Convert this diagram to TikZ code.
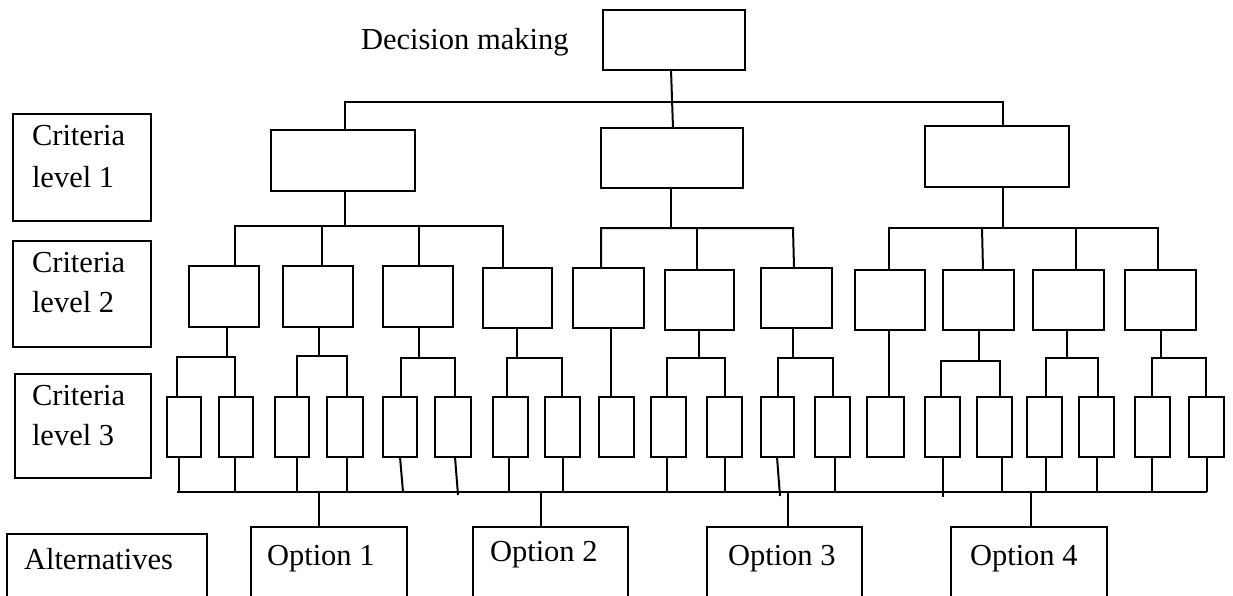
\documentclass[tikz,border=0pt]{standalone}
\usepackage{fontspec}
\setmainfont{Liberation Serif}

% box from its corners (x1,y1)-(x2,y2), y measured downwards
\newcommand\mkbox[5]{%
  \node[bx, minimum width={#4-#2}, minimum height={#5-#3}] (#1) at ({(#2+#4)/2},{(#3+#5)/2}) {};}
% parent -> bus -> two children
\newcommand\pairlink[7]{%
  \draw[ln] (#1.south -| #2,0) -- (#2,#3);
  \draw[ln] (#4.north -| #5,0) -- (#5,#3) -- (#7,#3) -- (#6.north -| #7,0);}
% level-3 criterion down to the alternatives bus
\newcommand\downlink[4]{%
  \draw[ln] (#1.south -| #2,0) -- (#3,#4);}

\begin{document}
\begin{tikzpicture}[x=1pt,y=-1pt,
  bx/.style={draw, line width=2pt, rectangle, inner sep=0pt, outer sep=0pt},
  ln/.style={line width=2pt},
  txt/.style={inner sep=0pt, outer sep=0pt, anchor=base west,
              font=\fontsize{30.5}{36}\selectfont}]
\useasboundingbox (0,0) rectangle (1233,596);
\clip (0,0) rectangle (1233,596);
\fill[white] (0,0) rectangle (1233,596);

% ---- level labels on the left
\mkbox{crA}{13}{114}{151}{221}
\node[txt] (crAa) at (32,146) {Criteria};
\node[txt] (crAb) at (32,187) {level 1};
\mkbox{crB}{13}{241}{151}{347}
\node[txt] (crBa) at (32,272) {Criteria};
\node[txt] (crBb) at (32,312) {level 2};
\mkbox{crC}{15}{374}{151}{478}
\node[txt] (crCa) at (32,405) {Criteria};
\node[txt] (crCb) at (32,445) {level 3};
\mkbox{alt}{7}{534}{207}{620}
\node[txt] (altt) at (24,569) {Alternatives};

% ---- goal
\node[txt] (dm) at (361,50) {Decision making};
\mkbox{top}{603}{10}{745}{70}

% ---- criteria level 1
\mkbox{l1a}{271}{130}{415}{191}
\mkbox{l1b}{601}{128}{743}{188}
\mkbox{l1c}{925}{126}{1069}{187}

\draw[ln] (l1a.north -| 345,0) -- (345,102) -- (1003,102) -- (l1c.north -| 1003,0);
\draw[ln] (top.south -| 671,0) -- (l1b.north -| 673,0);

% ---- criteria level 2
\mkbox{l2a}{189}{266}{259}{327}
\mkbox{l2b}{283}{266}{353}{327}
\mkbox{l2c}{383}{266}{453}{327}
\mkbox{l2d}{483}{268}{552}{328}
\mkbox{l2e}{573}{268}{644}{328}
\mkbox{l2f}{665}{270}{734}{330}
\mkbox{l2g}{761}{268}{832}{328}
\mkbox{l2h}{855}{270}{925}{330}
\mkbox{l2i}{943}{270}{1014}{330}
\mkbox{l2j}{1033}{270}{1104}{330}
\mkbox{l2k}{1125}{270}{1196}{330}

\draw[ln] (l1a.south -| 345,0) -- (345,226);
\draw[ln] (l2a.north -| 235,0) -- (235,226) -- (503,226) -- (l2d.north -| 503,0);
\draw[ln] (l2b.north -| 322,0) -- (322,226);
\draw[ln] (l2c.north -| 419,0) -- (419,226);

\draw[ln] (l1b.south -| 671,0) -- (671,228);
\draw[ln] (l2e.north -| 601,0) -- (601,228) -- (793,228) -- (l2g.north -| 794,0);
\draw[ln] (l2f.north -| 697,0) -- (697,228);

\draw[ln] (l1c.south -| 1003,0) -- (1003,228);
\draw[ln] (l2h.north -| 889,0) -- (889,228) -- (1158,228) -- (l2k.north -| 1158,0);
\draw[ln] (982,228) -- (l2i.north -| 983,0);
\draw[ln] (l2j.north -| 1076,0) -- (1076,228);

% ---- criteria level 3
\foreach \n/\a/\b in {l3a/167/201, l3b/219/253, l3c/275/309, l3d/327/363,
    l3e/383/417, l3f/435/471, l3g/493/528, l3h/545/580, l3i/599/634,
    l3j/651/686, l3k/707/742, l3l/761/794, l3m/815/850, l3n/867/904,
    l3o/925/960, l3p/977/1012, l3q/1027/1062, l3r/1079/1114,
    l3s/1135/1170, l3t/1189/1224}
  {\mkbox{\n}{\a}{397}{\b}{457}}

\pairlink{l2a}{227}{357}{l3a}{177}{l3b}{235}
\pairlink{l2b}{319}{356}{l3c}{297}{l3d}{347}
\pairlink{l2c}{419}{358}{l3e}{401}{l3f}{455}
\pairlink{l2d}{517}{358}{l3g}{507}{l3h}{562}
\draw[ln] (l2e.south -| 611,0) -- (l3i.north -| 611,0);
\pairlink{l2f}{699}{358}{l3j}{667}{l3k}{725}
\pairlink{l2g}{793}{358}{l3l}{778}{l3m}{833}
\draw[ln] (l2h.south -| 889,0) -- (l3n.north -| 889,0);
\pairlink{l2i}{979}{361}{l3o}{941}{l3p}{1000}
\pairlink{l2j}{1067}{358}{l3q}{1046}{l3r}{1098}
\pairlink{l2k}{1161}{358}{l3s}{1152}{l3t}{1206}

% ---- bus to the alternatives
\coordinate (busL) at (177,492);
\coordinate (busR) at (1207,492);
\draw[ln] (busL) -- (busR);

\downlink{l3a}{179}{179}{492}
\downlink{l3b}{235}{235}{492}
\downlink{l3c}{297}{297}{492}
\downlink{l3d}{347}{347}{492}
\downlink{l3e}{400}{403}{492}
\downlink{l3f}{455}{458}{495}
\downlink{l3g}{509}{509}{492}
\downlink{l3h}{563}{563}{492}
\downlink{l3j}{667}{667}{492}
\downlink{l3k}{725}{725}{492}
\downlink{l3l}{777}{780}{496}
\downlink{l3m}{835}{835}{492}
\downlink{l3o}{943}{943}{497}
\downlink{l3p}{1002}{1002}{492}
\downlink{l3q}{1046}{1046}{492}
\downlink{l3r}{1097}{1097}{492}
\downlink{l3s}{1152}{1152}{492}
\downlink{l3t}{1207}{1207}{492}

% ---- alternatives
\mkbox{o1}{251}{527}{407}{620}
\mkbox{o2}{473}{527}{628}{620}
\mkbox{o3}{707}{527}{862}{620}
\mkbox{o4}{951}{527}{1107}{620}
\node[txt] (o1t) at (267,565) {Option 1};
\node[txt] (o2t) at (490,561) {Option 2};
\node[txt] (o3t) at (728,565) {Option 3};
\node[txt] (o4t) at (970,565) {Option 4};

\draw[ln] (busL -| 319,0) -- (o1.north -| 319,0);
\draw[ln] (busL -| 541,0) -- (o2.north -| 541,0);
\draw[ln] (busL -| 788,0) -- (o3.north -| 788,0);
\draw[ln] (busL -| 1031,0) -- (o4.north -| 1031,0);
\end{tikzpicture}
\end{document}
